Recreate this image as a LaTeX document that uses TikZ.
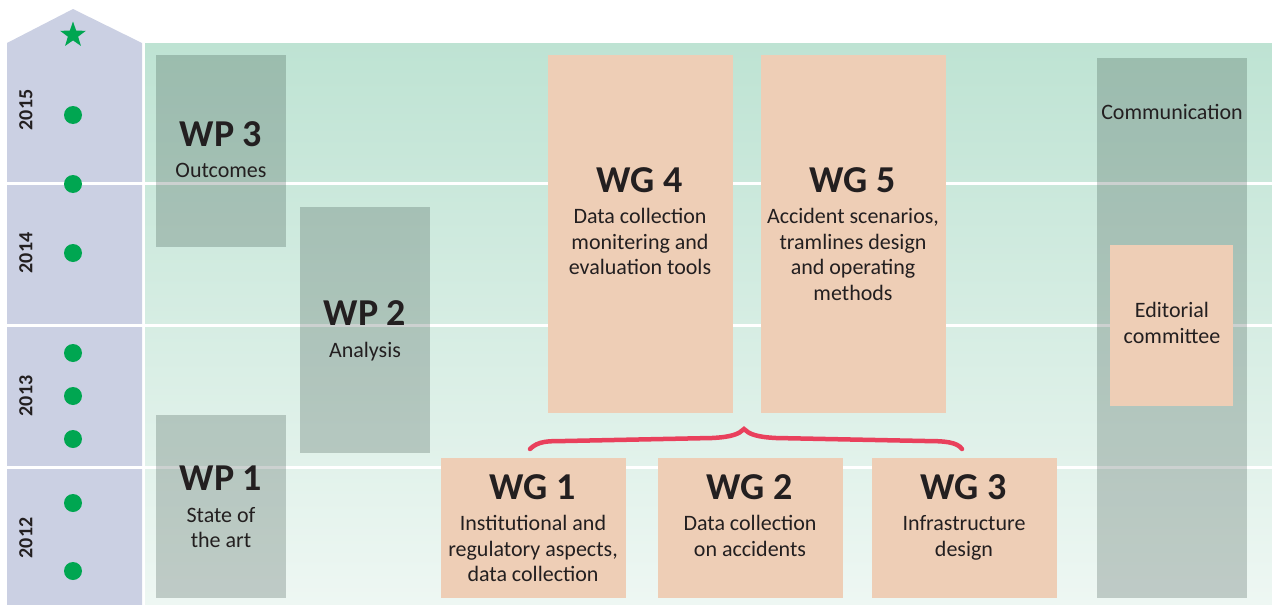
\documentclass[tikz,border=0pt]{standalone}
\usepackage{fontspec}
\setmainfont{Carlito}
\usetikzlibrary{positioning,shapes.geometric}

\definecolor{timeline}{RGB}{203,208,227}
\definecolor{bgtop}{RGB}{190,227,211}
\definecolor{bgbottom}{RGB}{238,247,243}
\definecolor{wpgrey}{RGB}{38,60,52}
\definecolor{wgorange}{RGB}{238,206,182}
\definecolor{dotgreen}{RGB}{0,166,81}
\definecolor{bracered}{RGB}{233,64,92}
\definecolor{ink}{RGB}{35,31,32}

\begin{document}
\begin{tikzpicture}[x=1pt,y=-1pt,
    head/.style={font=\fontsize{38}{38}\selectfont\bfseries, text=ink, inner sep=0pt, anchor=base},
    body/.style={font=\fontsize{22}{25.5}\selectfont, text=ink, align=center, inner sep=0pt},
    year/.style={font=\fontsize{20}{20}\selectfont\bfseries, text=ink, rotate=90, inner sep=0pt},
    milestone/.style={circle, fill=dotgreen, minimum size=18pt, inner sep=0pt},
    wpfill/.style={fill=wpgrey, fill opacity=0.23},
    wgfill/.style={fill=wgorange},
    yearline/.style={white, line width=3pt}]
            \useasboundingbox (0,0) rectangle (1272,605);

            %Shape: Timeline arrow
            \fill [timeline] (7,605) -- (7,43) -- (73,9) -- (142,43) -- (142,605) -- cycle ;
            %Shape: Background
            \shade [top color=bgtop, bottom color=bgbottom] (145,43) rectangle (1272,605) ;
            %Straight Lines: year borders
            \foreach \y in {183,325,467}
                \draw [yearline] (7,\y) -- (1272,\y) ;

            %Shape: Rectangle (work packages)
            \fill [wpfill] (156,55) rectangle (286,247) ;
            \fill [wpfill] (300,207) rectangle (430,453) ;
            \fill [wpfill] (156,415) rectangle (286,598) ;
            \fill [wpfill] (1097,58) rectangle (1247,598) ;
            %Shape: Rectangle (working groups)
            \fill [wgfill] (548,55) rectangle (733,413) ;
            \fill [wgfill] (761,55) rectangle (946,413) ;
            \fill [wgfill] (441,458) rectangle (626,598) ;
            \fill [wgfill] (658,458) rectangle (843,598) ;
            \fill [wgfill] (872,458) rectangle (1057,598) ;
            \fill [wgfill] (1110,245) rectangle (1233,406) ;

            %Shape: Brace
            \draw [bracered, line width=4.5pt, line cap=round] (530,449) .. controls (538,441) and (548,441) .. (565,441) -- (712,438) .. controls (732,437) and (739,434) .. (744,429) .. controls (749,434) and (756,437) .. (776,438) -- (925,441) .. controls (945,441) and (957,442) .. (962,449) ;

            % Milestones
            \node [star, star points=5, star point ratio=2.5, fill=dotgreen, minimum size=27pt, inner sep=0pt] (goal) at (73,35) {};
            \foreach \y [count=\i] in {115,184,253,353,396,439,503,571}
                \node [milestone] (m\i) at (73,\y) {};
            % Years
            \foreach \yr/\y in {2015/110,2014/253,2013/396,2012/538}
                \node [year] (y\yr) at (26,\y) {\yr};

            % Text Node
            \node [head] (wp3h) at (221,146) {WP 3};
            \node [body, below=17pt of wp3h] (wp3t) {Outcomes};
            % Text Node
            \node [head] (wp2h) at (365,325) {WP 2};
            \node [body, below=17pt of wp2h] (wp2t) {Analysis};
            % Text Node
            \node [head] (wp1h) at (221,490) {WP 1};
            \node [body, below=17pt of wp1h] (wp1t) {State of\\the art};
            % Text Node
            \node [head] (wg4h) at (640,192) {WG 4};
            \node [body, below=16pt of wg4h] (wg4t) {Data collection\\monitering and\\evaluation tools};
            % Text Node
            \node [head] (wg5h) at (853,192) {WG 5};
            \node [body, below=16pt of wg5h] (wg5t) {Accident scenarios,\\tramlines design\\and operating\\methods};
            % Text Node
            \node [head] (wg1h) at (533,499) {WG 1};
            \node [body, below=16pt of wg1h] (wg1t) {Institutional and\\regulatory aspects,\\data collection};
            % Text Node
            \node [head] (wg2h) at (750,499) {WG 2};
            \node [body, below=16pt of wg2h] (wg2t) {Data collection\\on accidents};
            % Text Node
            \node [head] (wg3h) at (964,499) {WG 3};
            \node [body, below=16pt of wg3h] (wg3t) {Infrastructure\\design};
            % Text Node
            \node [body] (comm) at (1172,112) {Communication};
            \node [body] (edit) at (1172,323) {Editorial\\committee};

        \end{tikzpicture}
\end{document}
